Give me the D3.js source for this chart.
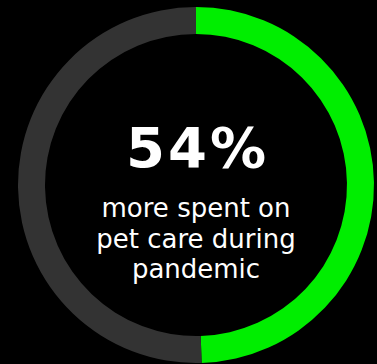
<!DOCTYPE html>
<html>
<head>
<meta charset="utf-8">
<script src="https://cdn.jsdelivr.net/npm/d3@7"></script>
<style>
  html, body { margin: 0; padding: 0; background: #000; }
  svg { display: block; }
</style>
</head>
<body>
<div id="chart"></div>
<script>
(function() {
"use strict";

// share (green arc vs grey remainder)
var categories = ["spent more", "rest"];
var values = [49.5, 50.5];
var colours = ["#00ee00", "#333333"];

// centre text
var headline = "54%";
var captionLines = ["more spent on", "pet care during", "pandemic"];

var width = 377;
var height = 364;
var cx = 196, cy = 185;
var outer = 178, inner = 151;

var svg = d3.select("#chart")
    .append("svg")
    .attr("width", width)
    .attr("height", height)
    .style("background", "#000");

var g = svg.append("g")
    .attr("transform", "translate(" + cx + "," + cy + ")");

var pie = d3.pie().sort(null).value(function(d) { return d; });
var arc = d3.arc().innerRadius(inner).outerRadius(outer);

var colour = d3.scaleOrdinal().domain(categories).range(colours);

g.selectAll("path")
    .data(pie(values))
    .enter().append("path")
    .attr("d", arc)
    .attr("fill", function(d, i) { return colour(categories[i]); });

// big number
g.append("text")
    .attr("x", 1.5)
    .attr("y", -18)
    .attr("text-anchor", "middle")
    .attr("fill", "#fff")
    .style("font-family", "'DejaVu Sans', sans-serif")
    .style("font-weight", "bold")
    .style("font-size", "56px")
    .style("letter-spacing", "3px")
    .text(headline);

// caption lines
g.selectAll(".cap")
    .data(captionLines)
    .enter().append("text")
    .attr("class", "cap")
    .attr("x", 0)
    .attr("y", function(d, i) { return 32 + i * 30.5; })
    .attr("text-anchor", "middle")
    .attr("fill", "#fff")
    .style("font-family", "'DejaVu Sans', sans-serif")
    .style("font-size", "26px")
    .text(function(d) { return d; });

})();
</script>
</body>
</html>
